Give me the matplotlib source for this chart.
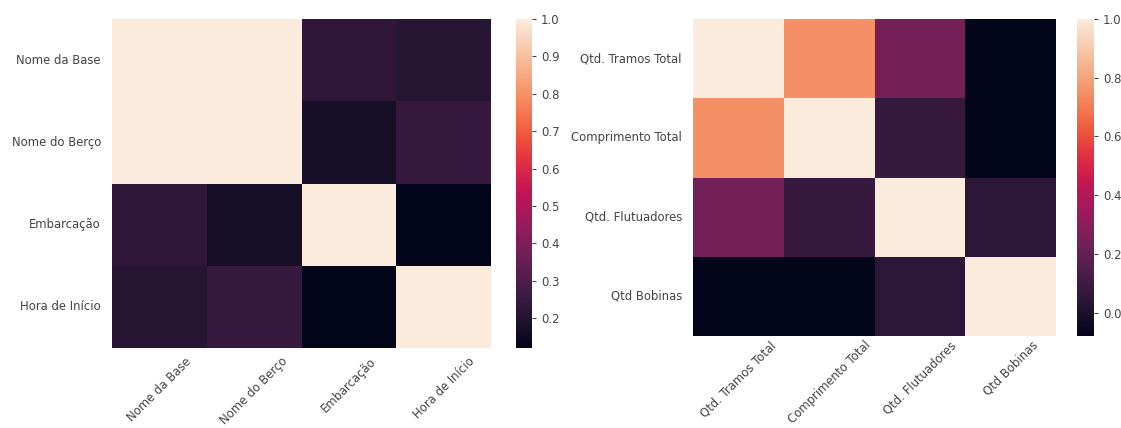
import numpy as np
import matplotlib
matplotlib.use("Agg")
import matplotlib.pyplot as plt
import seaborn as sns

labels_left = ["Nome da Base", "Nome do Berço", "Embarcação", "Hora de Início"]
corr_left = [
    [1.00, 1.00, 0.23, 0.21],
    [1.00, 1.00, 0.17, 0.25],
    [0.23, 0.17, 1.00, 0.12],
    [0.21, 0.25, 0.12, 1.00],
]
labels_right = ["Qtd. Tramos Total", "Comprimento Total", "Qtd. Flutuadores", "Qtd Bobinas"]
corr_right = [
    [1.00, 0.75, 0.24, -0.08],
    [0.75, 1.00, 0.08, -0.08],
    [0.24, 0.08, 1.00, 0.05],
    [-0.08, -0.08, 0.05, 1.00],
]

FS = 8.4
TXT = "#444444"
plt.rcParams["font.family"] = ["DejaVu Sans"]

W, H = 1121, 428
fig = plt.figure(figsize=(W / 100, H / 100), dpi=100)

def box(x0, y0, x1, y1):
    return [x0 / W, 1 - y1 / H, (x1 - x0) / W, (y1 - y0) / H]

ax1 = fig.add_axes(box(112, 19, 491, 348))
cax1 = fig.add_axes(box(516, 19, 532, 348))
ax2 = fig.add_axes(box(693, 19, 1056, 336))
cax2 = fig.add_axes(box(1077, 19, 1094, 336))

for ax, cax, data, labs, xpad in [(ax1, cax1, corr_left, labels_left, 5),
                                  (ax2, cax2, corr_right, labels_right, 2)]:
    sns.heatmap(np.array(data), ax=ax, cbar_ax=cax, cmap="rocket",
                xticklabels=labs, yticklabels=labs)
    ax.tick_params(axis="y", length=0, labelsize=FS, colors=TXT, pad=8)
    ax.tick_params(axis="x", length=0, labelsize=FS, colors=TXT, pad=xpad)
    for t in ax.get_xticklabels():
        t.set_rotation(45)
        t.set_ha("center")
    for t in ax.get_yticklabels():
        t.set_rotation(0)
    cax.tick_params(labelsize=FS, colors=TXT, length=3, width=0.8)
    for s in cax.spines.values():
        s.set_visible(False)

cax1.set_yticks([0.2, 0.3, 0.4, 0.5, 0.6, 0.7, 0.8, 0.9, 1.0])
cax2.set_yticks([0.0, 0.2, 0.4, 0.6, 0.8, 1.0])

fig.savefig("out.png", dpi=100)
